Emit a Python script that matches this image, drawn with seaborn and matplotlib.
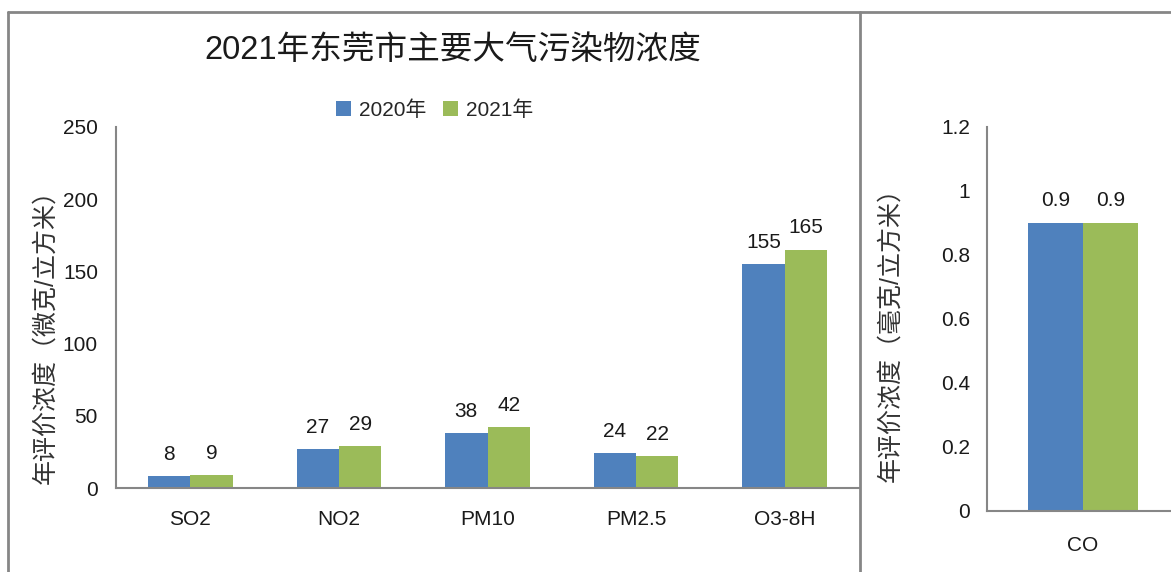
import pandas as pd
import matplotlib.pyplot as plt
from matplotlib.lines import Line2D
import seaborn as sns

# data
pollutants = ['SO2', 'NO2', 'PM10', 'PM2.5', 'O3-8H']
values_2020 = [8, 27, 38, 24, 155]
values_2021 = [9, 29, 42, 22, 165]
co_label = ['CO']
co_2020 = [0.9]
co_2021 = [0.9]
years = ['2020年', '2021年']
colors = ['#4F81BD', '#9BBB59']

sns.set_style('white')
plt.rcParams['font.family'] = ['Liberation Sans', 'Noto Sans CJK SC']

grey = '#868686'
txt = '#1a1a1a'

# long-form tables for seaborn
df = pd.DataFrame({
    'pollutant': pollutants * 2,
    'value': values_2020 + values_2021,
    'year': [years[0]] * len(pollutants) + [years[1]] * len(pollutants),
})
df_co = pd.DataFrame({
    'pollutant': co_label * 2,
    'value': co_2020 + co_2021,
    'year': [years[0], years[1]],
})

W, H = 1171, 572
fig = plt.figure(figsize=(W / 100, H / 100), dpi=100)

# left chart (ug/m3)
ax = fig.add_axes([116 / W, (H - 488) / H, 743 / W, 361 / H])
sns.barplot(data=df, x='pollutant', y='value', hue='year', palette=colors,
            width=0.57, gap=0, ax=ax, saturation=1, linewidth=0)
ax.set_xlim(-0.5, 4.5)
ax.set_ylim(0, 250)
ax.set_yticks(range(0, 251, 50))

# right chart (mg/m3)
ax2 = fig.add_axes([987 / W, (H - 511) / H, 192 / W, 384 / H])
sns.barplot(data=df_co, x='pollutant', y='value', hue='year', palette=colors,
            width=0.57, gap=0, ax=ax2, saturation=1, linewidth=0, legend=False)
ax2.set_xlim(-0.5, 0.5)
ax2.set_ylim(0, 1.2)
ax2.set_yticks([0, 0.2, 0.4, 0.6, 0.8, 1.0, 1.2])
ax2.set_yticklabels(['0', '0.2', '0.4', '0.6', '0.8', '1', '1.2'])

for a, xpad, ypad in [(ax, 16, 13), (ax2, 18, 12)]:
    for c in a.containers:
        a.bar_label(c, fmt='%g', padding=9, fontsize=15, color=txt)
    for s in ['top', 'right']:
        a.spines[s].set_visible(False)
    for s in ['left', 'bottom']:
        a.spines[s].set_color(grey)
        a.spines[s].set_linewidth(1.5)
    a.tick_params(axis='y', direction='in', length=6.5, width=1.5, color=grey,
                  labelsize=15, labelcolor=txt, pad=ypad)
    a.tick_params(axis='x', length=0, labelsize=15, labelcolor=txt, pad=xpad)
    a.set_xlabel('')
    a.set_ylabel('')

sns.move_legend(ax, 'center', bbox_to_anchor=(0.429, 1.047), ncol=2, frameon=False,
                title=None, fontsize=15, handlelength=0.7, handleheight=0.7,
                handletextpad=0.4, columnspacing=0.8)

# titles and axis labels
fig.text(453 / W, 1 - 50 / H, '2021年东莞市主要大气污染物浓度', ha='center', va='center',
         fontsize=23.5, color=txt)
fig.text(45 / W, 1 - 331 / H, '年评价浓度（微克/立方米）', rotation=90, ha='center',
         va='center', fontsize=18, color='#333333')
fig.text(890 / W, 1 - 328 / H, '年评价浓度（毫克/立方米）', rotation=90, ha='center',
         va='center', fontsize=18, color='#333333')

# chart frames
ytop = 1 - 12 / H
fig.add_artist(Line2D([8 / W, 8 / W], [0, ytop], color=grey, lw=2))
fig.add_artist(Line2D([8 / W, 1], [ytop, ytop], color=grey, lw=2))
fig.add_artist(Line2D([860 / W, 860 / W], [0, ytop], color=grey, lw=2))

fig.savefig('out.png', dpi=100)
